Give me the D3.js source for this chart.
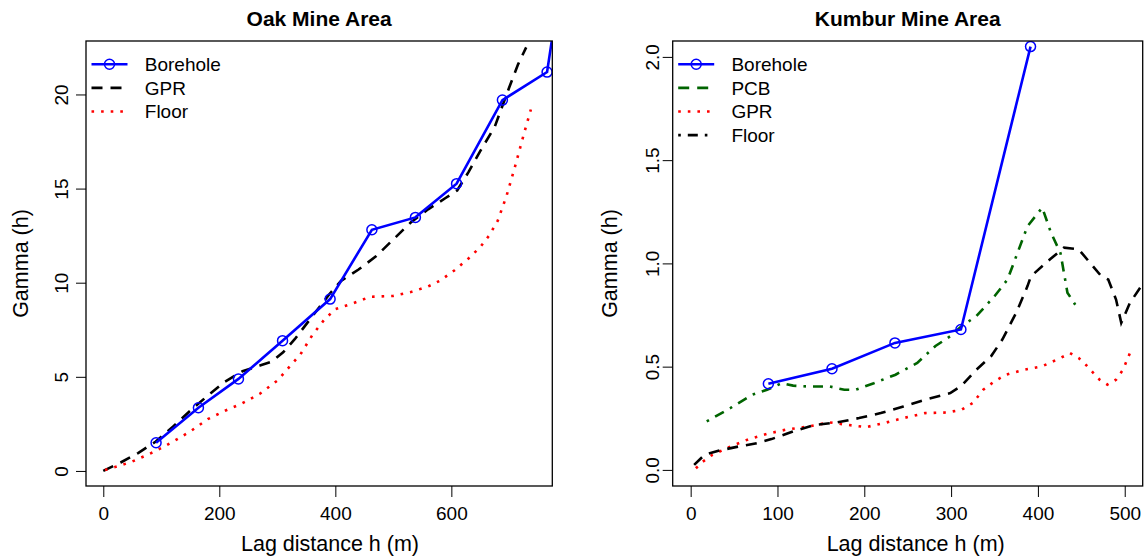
<!DOCTYPE html>
<html>
  <head>
    <meta charset="UTF-8">
    <title>Variograms</title>
    <script src="https://d3js.org/d3.v7.min.js"></script>
    <style>
      body { margin: 0; background: #fff; }
      svg { display: block; font-family: "Liberation Sans", Arial, sans-serif; }
      .tick text { font-size: 19px; fill: #000; }
      .tick line { stroke: #000; }
      .title { font-size: 21px; font-weight: bold; }
      .axis-label { font-size: 21.5px; }
      .legend text { font-size: 19px; }
    </style>
  </head>
  <body>
    <div id="chart"></div>
<script>
  // ---- Oak Mine Area ----
  var oakBoreholeLag = [91, 164, 233, 309, 391, 463, 538, 609, 688, 765, 840];
  var oakBoreholeGamma = [1.50, 3.36, 4.89, 6.92, 9.13, 12.81, 13.47, 15.26, 19.70, 21.19, 36.5];

  var oakGprLag = [0, 30, 60, 90, 120, 150, 180, 210, 240, 270, 290, 310, 330, 350, 370, 390, 410, 440, 470, 500, 530, 560, 590, 610, 630, 650, 675, 700, 715, 729];
  var oakGprGamma = [0, 0.45, 0.95, 1.55, 2.35, 3.2, 4.0, 4.75, 5.3, 5.6, 5.8, 6.3, 7.0, 7.8, 8.6, 9.4, 10.1, 10.7, 11.4, 12.3, 13.2, 13.9, 14.5, 14.9, 15.9, 17.0, 18.3, 20.4, 21.6, 22.5];

  var oakFloorLag = [3, 25, 50, 90, 120, 150, 180, 210, 240, 270, 300, 320, 340, 360, 380, 400, 430, 460, 500, 530, 560, 580, 605, 630, 650, 665, 680, 695, 710, 725, 737];
  var oakFloorGamma = [0.05, 0.25, 0.5, 1.05, 1.55, 2.1, 2.75, 3.2, 3.6, 4.1, 4.8, 5.5, 6.2, 7.2, 8.0, 8.6, 8.9, 9.25, 9.3, 9.5, 9.8, 10.1, 10.65, 11.3, 11.9, 12.5, 13.3, 14.6, 16.2, 17.9, 19.2];

  // ---- Kumbur Mine Area ----
  var kumBoreholeLag = [89.5, 162.8, 235.3, 311.3, 391.5];
  var kumBoreholeGamma = [0.417, 0.49, 0.615, 0.68, 2.05];

  var kumPcbLag = [18.5, 46, 71, 88, 105, 118, 135, 160, 177, 190, 211, 236, 261, 282, 299, 312, 329, 350, 365, 388, 405, 415, 426, 434, 443];
  var kumPcbGamma = [0.235, 0.30, 0.364, 0.388, 0.42, 0.408, 0.404, 0.404, 0.388, 0.388, 0.42, 0.461, 0.518, 0.60, 0.647, 0.696, 0.744, 0.841, 0.922, 1.18, 1.27, 1.149, 1.05, 0.858, 0.80];

  var kumGprLag = [6, 14, 25, 46, 67, 88, 109, 135, 160, 181, 202, 223, 245, 270, 295, 312, 325, 337, 350, 363, 384, 405, 426, 437, 447, 455, 471, 480, 490, 498, 506];
  var kumGprGamma = [0.008, 0.04, 0.073, 0.113, 0.149, 0.175, 0.194, 0.21, 0.23, 0.218, 0.207, 0.227, 0.251, 0.275, 0.278, 0.291, 0.324, 0.388, 0.429, 0.461, 0.485, 0.502, 0.542, 0.566, 0.542, 0.51, 0.437, 0.413, 0.437, 0.485, 0.566];

  var kumFloorLag = [4, 16, 33, 55, 76, 93, 118, 143, 169, 194, 219, 245, 270, 299, 312, 329, 346, 359, 375, 388, 392, 414, 430, 447, 460, 473, 481, 490, 496, 506, 519];
  var kumFloorGamma = [0.024, 0.073, 0.094, 0.113, 0.129, 0.149, 0.186, 0.218, 0.23, 0.251, 0.275, 0.307, 0.34, 0.372, 0.408, 0.485, 0.55, 0.631, 0.761, 0.89, 0.938, 1.02, 1.076, 1.068, 1.003, 0.938, 0.922, 0.825, 0.712, 0.809, 0.89];

  var oakXTicks = [0, 200, 400, 600];
  var oakYTicks = [0, 5, 10, 15, 20];
  var kumXTicks = [0, 100, 200, 300, 400, 500];
  var kumYTicks = [0, 0.5, 1.0, 1.5, 2.0];

  var zip = function(a, b) { return a.map(function(v, i) { return [v, b[i]]; }); };

  var styles = {
    borehole: { color: "#0000ff", dash: null, width: 2.6 },
    dashed: { color: "#000", dash: "11,8", width: 2.6 },
    dotted: { color: "#ff0000", dash: "2.6,7", width: 2.6 },
    dotdash: { color: "#006400", dash: "2.6,7,10,7", width: 2.6 },
    greenDash: { color: "#006400", dash: "11,8", width: 2.6 },
    blackDotDash: { color: "#000", dash: "2.6,7,10,7", width: 2.6 }
  };

  var panels = [
    {
      id: "oak", title: "Oak Mine Area",
      box: { left: 86, right: 552.3, top: 41, bottom: 486 },
      xDomain: [-29.8, 774], yDomain: [-0.8, 22.84],
      xTicks: oakXTicks, yTicks: oakYTicks, yFmt: d3.format("d"),
      xLabelX: 330, yTickBase: 68, yLabelX: 28,
      series: [
        { data: zip(oakGprLag, oakGprGamma), style: styles.dashed },
        { data: zip(oakFloorLag, oakFloorGamma), style: styles.dotted },
        { data: zip(oakBoreholeLag, oakBoreholeGamma), style: styles.borehole, points: true }
      ],
      legend: [
        { label: "Borehole", style: styles.borehole, points: true },
        { label: "GPR", style: styles.dashed },
        { label: "Floor", style: styles.dotted }
      ],
      legendX: 91.5, legendTextX: 144.8
    },
    {
      id: "kum", title: "Kumbur Mine Area",
      box: { left: 672.7, right: 1142.7, top: 41, bottom: 486 },
      xDomain: [-20.7, 520.7], yDomain: [-0.078, 2.077],
      xTicks: kumXTicks, yTicks: kumYTicks, yFmt: d3.format(".1f"),
      xLabelX: 915.7, yTickBase: 659, yLabelX: 617,
      series: [
        { data: zip(kumPcbLag, kumPcbGamma), style: styles.dotdash },
        { data: zip(kumGprLag, kumGprGamma), style: styles.dotted },
        { data: zip(kumFloorLag, kumFloorGamma), style: styles.dashed },
        { data: zip(kumBoreholeLag, kumBoreholeGamma), style: styles.borehole, points: true }
      ],
      legend: [
        { label: "Borehole", style: styles.borehole, points: true },
        { label: "PCB", style: styles.greenDash },
        { label: "GPR", style: styles.dotted },
        { label: "Floor", style: styles.blackDotDash }
      ],
      legendX: 678.2, legendTextX: 731.4
    }
  ];

  var svg = d3.select("#chart").append("svg")
    .attr("width", 1146)
    .attr("height", 560);

  panels.forEach(function(p) {
    var b = p.box;
    var x = d3.scaleLinear().domain(p.xDomain).range([b.left, b.right]);
    var y = d3.scaleLinear().domain(p.yDomain).range([b.bottom, b.top]);

    // clip to the plot region
    svg.append("clipPath").attr("id", "clip-" + p.id)
      .append("rect")
        .attr("x", b.left).attr("y", b.top)
        .attr("width", b.right - b.left).attr("height", b.bottom - b.top);

    var line = d3.line()
      .x(function(d) { return x(d[0]); })
      .y(function(d) { return y(d[1]); });

    var plot = svg.append("g").attr("clip-path", "url(#clip-" + p.id + ")");
    p.series.forEach(function(s) {
      plot.append("path")
        .datum(s.data)
        .attr("fill", "none")
        .attr("stroke", s.style.color)
        .attr("stroke-width", s.style.width)
        .attr("stroke-dasharray", s.style.dash)
        .attr("d", line);
      if (s.points) {
        plot.selectAll(null)
          .data(s.data)
          .enter().append("circle")
            .attr("cx", function(d) { return x(d[0]); })
            .attr("cy", function(d) { return y(d[1]); })
            .attr("r", 5)
            .attr("fill", "none")
            .attr("stroke", s.style.color)
            .attr("stroke-width", 1.5);
      }
    });

    // box
    svg.append("rect")
      .attr("x", b.left).attr("y", b.top)
      .attr("width", b.right - b.left).attr("height", b.bottom - b.top)
      .attr("fill", "none").attr("stroke", "#000").attr("stroke-width", 1.3);

    // x axis
    var gx = svg.append("g")
      .attr("transform", "translate(0," + b.bottom + ")")
      .call(d3.axisBottom(x).tickValues(p.xTicks).tickSize(11).tickPadding(10).tickFormat(d3.format("d")));
    gx.select(".domain").remove();
    gx.attr("font-family", null).attr("font-size", null);

    // y axis, labels parallel to the axis
    var gy = svg.append("g")
      .attr("transform", "translate(" + b.left + ",0)")
      .call(d3.axisLeft(y).tickValues(p.yTicks).tickSize(10).tickFormat(p.yFmt));
    gy.select(".domain").remove();
    gy.attr("font-family", null).attr("font-size", null);
    gy.selectAll(".tick text")
      .attr("x", 0).attr("dy", null)
      .attr("text-anchor", "middle")
      .attr("transform", "translate(" + (p.yTickBase - b.left) + ",0) rotate(-90)");

    // titles
    svg.append("text").attr("class", "title")
      .attr("x", (b.left + b.right) / 2).attr("y", 26)
      .attr("text-anchor", "middle").text(p.title);
    svg.append("text").attr("class", "axis-label")
      .attr("x", p.xLabelX).attr("y", 550.7)
      .attr("text-anchor", "middle").text("Lag distance h (m)");
    svg.append("text").attr("class", "axis-label")
      .attr("transform", "translate(" + p.yLabelX + "," + ((b.top + b.bottom) / 2) + ") rotate(-90)")
      .attr("text-anchor", "middle").text("Gamma (h)");

    // legend
    var lg = svg.append("g").attr("class", "legend");
    p.legend.forEach(function(item, i) {
      var ly = 64.3 + i * 23.6;
      lg.append("line")
        .attr("x1", p.legendX).attr("x2", p.legendX + 36)
        .attr("y1", ly).attr("y2", ly)
        .attr("stroke", item.style.color)
        .attr("stroke-width", item.style.width)
        .attr("stroke-dasharray", item.style.dash);
      if (item.points) {
        lg.append("circle")
          .attr("cx", p.legendX + 18).attr("cy", ly).attr("r", 5)
          .attr("fill", "none").attr("stroke", item.style.color).attr("stroke-width", 1.5);
      }
      lg.append("text")
        .attr("x", p.legendTextX).attr("y", ly)
        .attr("dy", "0.36em")
        .text(item.label);
    });
  });
</script>
  </body>
</html>
